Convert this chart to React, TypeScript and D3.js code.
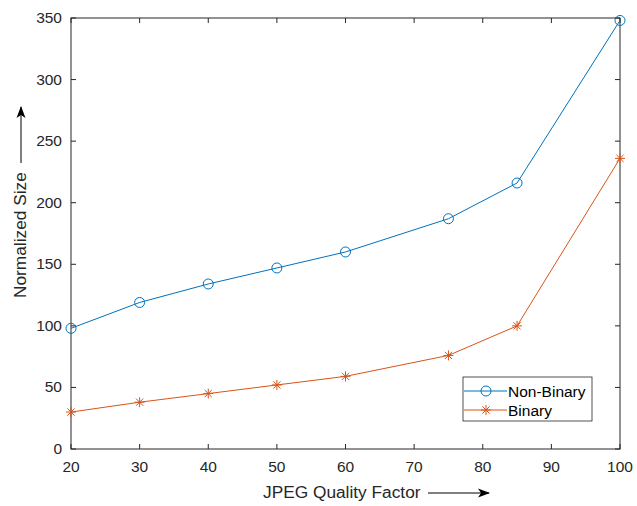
import React from 'react';
import * as d3 from 'd3';

const quality = [20, 30, 40, 50, 60, 75, 85, 100];
const nonBinary = [98, 119, 134, 147, 160, 187, 216, 348];
const binary = [30, 38, 45, 52, 59, 76, 100, 236];
const xTicks = [20, 30, 40, 50, 60, 70, 80, 90, 100];
const yTicks = [0, 50, 100, 150, 200, 250, 300, 350];

const W = 637;
const H = 506;
const margin = { top: 18, right: 17, bottom: 57, left: 71 };
const blue = '#0072BD';
const orange = '#D95319';
const axisColor = '#262626';
const font = '"Liberation Sans", Arial, sans-serif';

export default function App() {
  const x = d3.scaleLinear().domain([20, 100]).range([margin.left, W - margin.right]);
  const y = d3.scaleLinear().domain([0, 350]).range([H - margin.bottom, margin.top]);
  const line = d3.line<number>().x((_, i) => x(quality[i])).y(d => y(d));
  const x0 = x.range()[0], x1 = x.range()[1];
  const y0 = y.range()[0], y1 = y.range()[1];
  const tick = 5;

  const star = (cx: number, cy: number, k: number) => {
    const r = 5;
    const d = r * 0.72;
    return (
      <g key={k} stroke={orange} strokeWidth={1}>
        <line x1={cx - r} y1={cy} x2={cx + r} y2={cy} />
        <line x1={cx} y1={cy - r} x2={cx} y2={cy + r} />
        <line x1={cx - d} y1={cy - d} x2={cx + d} y2={cy + d} />
        <line x1={cx - d} y1={cy + d} x2={cx + d} y2={cy - d} />
      </g>
    );
  };

  const lx = 463, ly = 377, lw = 129, lh = 44;

  return (
    <svg width={W} height={H} style={{ position: 'absolute', left: 0, top: 0, background: '#fff' }} fontFamily={font}>
      <defs>
        <marker id="arrow" viewBox="0 0 12 10" refX="11" refY="5" markerUnits="userSpaceOnUse" markerWidth="13" markerHeight="10" orient="auto">
          <path d="M0,0.5 L12,5 L0,9.5 L3,5 z" fill="#000" />
        </marker>
      </defs>
      <rect x={x0} y={y1} width={x1 - x0} height={y0 - y1} fill="#fff" />
      {/* ticks */}
      {xTicks.map(t => (
        <g key={'xt' + t} stroke={axisColor} strokeWidth={1}>
          <line x1={x(t)} x2={x(t)} y1={y0} y2={y0 - tick} />
          <line x1={x(t)} x2={x(t)} y1={y1} y2={y1 + tick} />
        </g>
      ))}
      {yTicks.map(t => (
        <g key={'yt' + t} stroke={axisColor} strokeWidth={1}>
          <line x1={x0} x2={x0 + tick} y1={y(t)} y2={y(t)} />
          <line x1={x1} x2={x1 - tick} y1={y(t)} y2={y(t)} />
        </g>
      ))}
      <rect x={x0} y={y1} width={x1 - x0} height={y0 - y1} fill="none" stroke={axisColor} strokeWidth={1} />
      {xTicks.map(t => (
        <text key={'xl' + t} x={x(t)} y={y0 + 23} textAnchor="middle" fontSize={15.5} fill={axisColor}>{t}</text>
      ))}
      {yTicks.map(t => (
        <text key={'yl' + t} x={x0 - 9} y={y(t) + 5} textAnchor="end" fontSize={15.5} fill={axisColor}>{t}</text>
      ))}
      {/* series */}
      <path d={line(nonBinary) || ''} fill="none" stroke={blue} strokeWidth={1} />
      <path d={line(binary) || ''} fill="none" stroke={orange} strokeWidth={1} />
      {nonBinary.map((v, i) => (
        <circle key={'c' + i} cx={x(quality[i])} cy={y(v)} r={5} fill="none" stroke={blue} strokeWidth={1} />
      ))}
      {binary.map((v, i) => star(x(quality[i]), y(v), i))}
      {/* axis labels */}
      <text x={263} y={498} textAnchor="start" fontSize={17.3} fill={axisColor}>JPEG Quality Factor</text>
      <line x1={428} y1={493} x2={489} y2={493} stroke="#000" strokeWidth={1} markerEnd="url(#arrow)" />
      <text transform="translate(26,298) rotate(-90)" textAnchor="start" fontSize={17.3} fill={axisColor}>Normalized Size</text>
      <line x1={21} y1={163} x2={21} y2={107} stroke="#000" strokeWidth={1} markerEnd="url(#arrow)" />
      {/* legend */}
      <rect x={lx} y={ly} width={lw} height={lh} fill="#fff" stroke={axisColor} strokeWidth={0.8} />
      <line x1={lx + 1} x2={lx + 44} y1={ly + 14} y2={ly + 14} stroke={blue} strokeWidth={1} />
      <circle cx={lx + 23} cy={ly + 14} r={5} fill="none" stroke={blue} strokeWidth={1} />
      <text x={lx + 45} y={ly + 19.5} fontSize={15.5} fill="#000">Non-Binary</text>
      <line x1={lx + 1} x2={lx + 44} y1={ly + 33} y2={ly + 33} stroke={orange} strokeWidth={1} />
      {star(lx + 23, ly + 33, 99)}
      <text x={lx + 45} y={ly + 38.5} fontSize={15.5} fill="#000">Binary</text>
    </svg>
  );
}
